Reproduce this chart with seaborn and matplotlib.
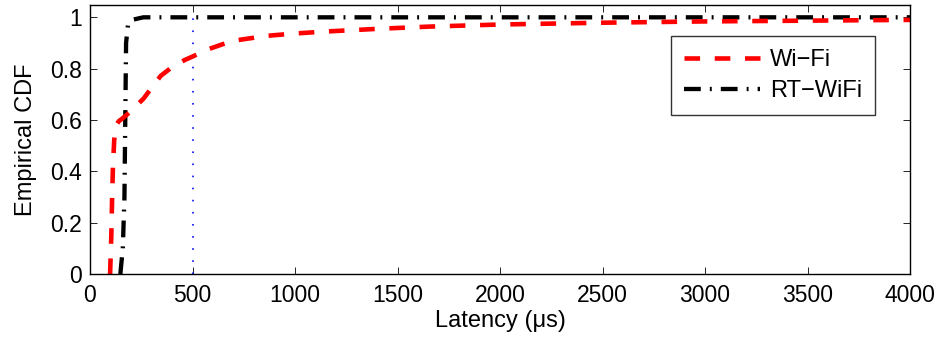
import matplotlib
matplotlib.use("Agg")
import matplotlib.pyplot as plt
import seaborn as sns
import pandas as pd

# Wi-Fi latency CDF (microseconds, cdf)
wifi_latency = [98, 104, 108, 112, 118, 125, 140, 160, 200, 262, 300, 345, 400, 463, 500, 571, 693,
                864, 1000, 1157, 1400, 1660, 2000, 2500, 3000, 3500, 4000]
wifi_cdf     = [0.0, 0.15, 0.3, 0.42, 0.52, 0.575, 0.595, 0.607, 0.635, 0.684, 0.725, 0.772, 0.806, 0.834, 0.847, 0.874, 0.908,
                0.928, 0.937, 0.945, 0.955, 0.964, 0.972, 0.979, 0.984, 0.987, 0.99]

# RT-WiFi latency CDF
rt_latency = [148, 160, 168, 172, 176, 185, 205, 260, 1000, 2000, 3000, 4000]
rt_cdf     = [0.0, 0.1, 0.3, 0.6, 0.9, 0.97, 0.99, 1.0, 1.0, 1.0, 1.0, 1.0]

# vertical marker at 500 us
marker_latency = [500, 500]
marker_cdf = [0.0, 1.0]

x_ticks = [0, 500, 1000, 1500, 2000, 2500, 3000, 3500, 4000]
y_ticks = [0, 0.2, 0.4, 0.6, 0.8, 1.0]
y_labels = ["0", "0.2", "0.4", "0.6", "0.8", "1"]

sns.set_style("ticks")
plt.rcParams['font.family'] = ['Liberation Sans', 'DejaVu Sans']
plt.rcParams['xtick.direction'] = 'in'
plt.rcParams['ytick.direction'] = 'in'
plt.rcParams['text.color'] = 'black'
plt.rcParams['axes.labelcolor'] = 'black'
plt.rcParams['xtick.color'] = 'black'
plt.rcParams['ytick.color'] = 'black'

fig = plt.figure(figsize=(9.42, 3.46), dpi=100)
ax = fig.add_axes([90 / 942, 1 - 274 / 346, 820 / 942, 269 / 346])

df_w = pd.DataFrame({"Latency": wifi_latency, "CDF": wifi_cdf})
df_r = pd.DataFrame({"Latency": rt_latency, "CDF": rt_cdf})
df_m = pd.DataFrame({"Latency": marker_latency, "CDF": marker_cdf})

sns.lineplot(data=df_m, x="Latency", y="CDF", ax=ax, color="#1a1aff", lw=1.3,
             linestyle=(0, (0.9, 5.8)), sort=False, estimator=None)
sns.lineplot(data=df_r, x="Latency", y="CDF", ax=ax, color="black", lw=3.1,
             linestyle=(0, (3.9, 2.1, 0.45, 2.1)), sort=False, estimator=None, label="RT\u2212WiFi")
sns.lineplot(data=df_w, x="Latency", y="CDF", ax=ax, color="red", lw=3.3,
             linestyle=(0, (3.4, 3.2)), sort=False, estimator=None, label="Wi\u2212Fi")

ax.set_xlim(0, 4000)
ax.set_ylim(0, 1.048)
ax.set_xticks(x_ticks)
ax.set_xticklabels([str(t) for t in x_ticks])
ax.set_yticks(y_ticks)
ax.set_yticklabels(y_labels)
ax.tick_params(labelsize=16.5, length=5, width=0.6, top=True, right=True, colors="black")
ax.tick_params(axis="y", pad=6)
ax.tick_params(axis="x", pad=7)
ax.set_xlabel("Latency (\u03bcs)", fontsize=17, labelpad=2, color="black")
ax.set_ylabel("Empirical CDF", fontsize=17, labelpad=9, color="black")
for s in ax.spines.values():
    s.set_linewidth(1.0)
    s.set_color("black")

handles, labels = ax.get_legend_handles_labels()
order = [labels.index("Wi\u2212Fi"), labels.index("RT\u2212WiFi")]
leg = ax.legend([handles[i] for i in order], [labels[i] for i in order],
                loc="upper right", bbox_to_anchor=(0.957, 0.885), borderaxespad=0,
                fontsize=17, frameon=True, fancybox=False, edgecolor="black",
                handlelength=3.2, handletextpad=0.42, borderpad=0.55, labelspacing=0.4)
leg.get_frame().set_linewidth(1.0)
for t in leg.get_texts():
    t.set_color("black")

fig.savefig("out.png", dpi=100)
